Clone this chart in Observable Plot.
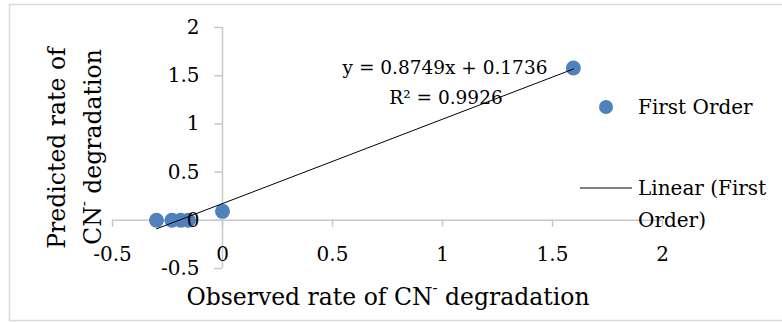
<!DOCTYPE html>
<html><head><meta charset="utf-8">
<script src="https://cdn.jsdelivr.net/npm/d3@7"></script>
<script src="https://cdn.jsdelivr.net/npm/@observablehq/plot@0.6"></script>
<style>body{margin:0;background:#fff;overflow:hidden}</style>
</head><body><div id="chart"></div>
<script>
// Data
const observed  = [-0.30, -0.23, -0.19, -0.155, 0.0, 1.595];
const predicted = [0.0, 0.0, 0.0, 0.0, 0.093, 1.58];
const slope = 0.8749, intercept = 0.1736, rSquared = 0.9926;
const xTicks = [-0.5, 0, 0.5, 1, 1.5, 2];
const yTicks = [-0.5, 0, 0.5, 1, 1.5, 2];
const seriesName = "First Order";
const trendLines = ["Linear (First", "Order)"];
const axisCross = 0;

const points = observed.map((x, i) => ({x, y: predicted[i]}));
const xMin = d3.min(observed), xMax = d3.max(observed);
const trend = [xMin, xMax].map(x => ({x, y: slope * x + intercept}));

const FONT = "DejaVu Serif";
const FS = 20;      // ticks & legend
const FS_T = 23.5;  // axis titles
const FS_EQ = 18.5; // equation
const GRID = "#c8c8c8";
const BLUE = "#4f81bd";

const chart = Plot.plot({
  width: 782, height: 322,
  marginLeft: 112, marginRight: 120, marginTop: 27, marginBottom: 54,
  style: {fontFamily: FONT, fontSize: FS + "px", background: "#fff", color: "#000", overflow: "visible"},
  x: {domain: [-0.5, 2], axis: null},
  y: {domain: [-0.5, 2], axis: null},
  marks: [
    Plot.ruleX([axisCross], {y1: yTicks[0], y2: yTicks[yTicks.length - 1], stroke: GRID, strokeWidth: 1.5}),
    Plot.ruleY([axisCross], {x1: xTicks[0], x2: xTicks[xTicks.length - 1], stroke: GRID, strokeWidth: 1.5}),
    Plot.ruleX(xTicks, {x: d => d, y1: axisCross, y2: axisCross, insetBottom: -7, stroke: GRID, strokeWidth: 1.5}),
    Plot.ruleY(yTicks, {y: d => d, x1: axisCross, x2: axisCross, insetLeft: -8, stroke: GRID, strokeWidth: 1.5}),
    Plot.dot(points, {x: "x", y: "y", r: 7.5, fill: BLUE, stroke: null}),
    Plot.line(trend, {x: "x", y: "y", stroke: "#000", strokeWidth: 1}),
    Plot.text(xTicks, {x: d => d, y: axisCross, dy: 34, text: d => String(d), fontSize: FS, fill: "#000"}),
    Plot.text(yTicks, {x: axisCross, y: d => d, dx: -23, textAnchor: "end", text: d => String(d), fontSize: FS, fill: "#000"})
  ]
});
document.getElementById("chart").appendChild(chart);

const svg = d3.select(chart);
svg.insert("rect", ":first-child")
  .attr("x", 9.5).attr("y", 4.5).attr("width", 800).attr("height", 316)
  .attr("fill", "none").attr("stroke", "#d9d9d9").attr("stroke-width", 1.5);

const txt = (x, y, anchor, fs = FS) => svg.append("text")
  .attr("x", x).attr("y", y).attr("text-anchor", anchor)
  .attr("dominant-baseline", "central")
  .attr("font-family", FONT).attr("font-size", fs).attr("fill", "#000");

txt(445, 67, "middle", FS_EQ).text(`y = ${slope}x + ${intercept}`);
txt(446, 97, "middle", FS_EQ).text(`R² = ${rSquared}`);

const xt = txt(388, 297, "middle", FS_T);
xt.append("tspan").text("Observed rate of CN");
xt.append("tspan").attr("font-size", 15).attr("dy", -9).text("-");
xt.append("tspan").attr("dy", 9).text(" degradation");

const yt1 = txt(0, 0, "middle", FS_T).attr("transform", "translate(57,148) rotate(-90)");
yt1.text("Predicted rate of");
const yt2 = txt(0, 0, "middle", FS_T).attr("transform", "translate(93,147) rotate(-90)");
yt2.append("tspan").text("CN");
yt2.append("tspan").attr("font-size", 15).attr("dy", -9).text("-");
yt2.append("tspan").attr("dy", 9).text(" degradation");

svg.append("circle").attr("cx", 606).attr("cy", 107).attr("r", 7).attr("fill", BLUE);
txt(638, 107, "start").text(seriesName);
svg.append("line").attr("x1", 580).attr("x2", 632).attr("y1", 188).attr("y2", 188)
  .attr("stroke", "#000").attr("stroke-width", 1);
txt(638, 188, "start").text(trendLines[0]);
txt(638, 220, "start").text(trendLines[1]);
</script>
</body></html>
